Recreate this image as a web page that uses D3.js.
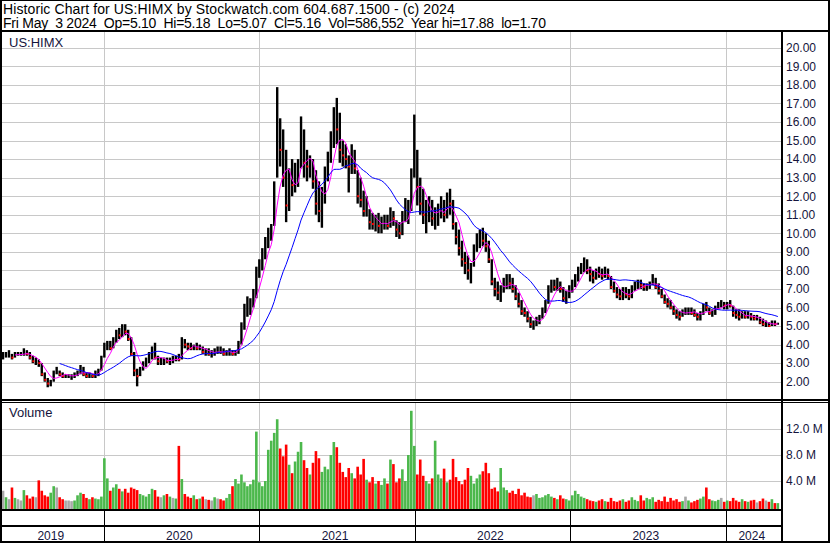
<!DOCTYPE html>
<html>
<head>
<meta charset="utf-8">
<title>US:HIMX historic chart</title>
<script src="https://d3js.org/d3.v7.min.js"></script>
<style>
  body { margin: 0; background: #fff; }
  svg { display: block; font-family: "Liberation Sans", Arial, sans-serif; }
  .grid line { stroke: #c8c8c8; stroke-width: 1px; shape-rendering: crispEdges; }
  .axis text { font-size: 12px; fill: #14143c; }
  .axis .domain, .axis .tick line { display: none; }
  .head { font-size: 14px; fill: #000; white-space: pre; }
  .panel-label { font-size: 13px; fill: #14143c; }
  .year { font-size: 12px; fill: #14143c; text-anchor: middle; }
</style>
</head>
<body>
<svg width="830" height="543"></svg>
<script>
// weekly bars, first week ends Fri May 10 2019, last week ends Fri May 3 2024
const firstWeek = new Date(2019, 4, 10);

const high = [
  3.6,3.6,3.7,3.5,3.6,3.6,3.6,3.8,3.7,3.6,3.4,3.3,3.2,3.0,2.5,2.2,2.1,2.6,2.8,2.6,2.5,2.4,2.4,2.4,2.5,2.6,2.9,2.8,2.5,2.5,2.4,2.6,2.7,3.4,
  4.1,4.2,4.2,4.4,4.8,4.9,5.1,5.1,4.8,4.4,3.6,2.7,2.8,3.1,3.3,3.6,3.9,4.1,3.4,3.3,3.3,3.3,3.3,3.4,3.4,3.5,4.4,4.3,4.1,4.1,4.0,4.1,4.0,3.9,3.8,3.8,3.7,3.8,3.9,3.9,3.8,3.7,3.8,3.7,3.7,4.2,5.2,6.2,6.6,6.5,7.0,8.2,
  8.6,9.2,9.8,10.3,10.5,12.8,17.88,16.2,15.6,14.5,13.5,14.0,13.8,14.0,16.3,15.6,14.5,14.2,14.0,13.4,12.8,12.5,13.6,14.4,15.5,16.8,17.3,16.5,15.0,14.8,14.2,14.8,14.5,13.4,13.0,12.3,12.0,11.3,11.1,11.0,11.1,10.9,11.0,11.0,11.4,11.2,10.7,10.6,11.2,11.9,11.8,13.5,16.4,
  14.5,13.0,12.4,11.8,12.0,11.8,11.4,11.6,12.0,11.8,12.2,12.4,11.8,10.6,10.2,9.6,9.0,8.8,8.4,9.4,10.0,10.2,10.3,10.0,9.6,8.6,7.6,7.4,7.2,7.6,7.8,7.8,7.6,7.2,6.8,6.4,6.0,5.8,5.5,5.3,5.5,5.6,6.0,6.4,7.2,7.5,7.5,7.6,7.4,7.1,6.9,7.2,
  7.5,7.8,8.2,8.4,8.7,8.6,8.2,8.0,8.1,8.2,8.1,8.2,8.1,7.7,7.4,7.1,7.0,7.1,7.1,7.0,7.2,7.4,7.5,7.5,7.3,7.3,7.4,7.8,7.6,7.3,7.0,6.7,6.5,6.4,6.1,5.9,5.8,5.9,6.0,6.0,6.0,5.9,5.7,5.8,6.2,6.3,6.0,5.9,6.1,6.3,6.4,6.3,
  6.3,6.4,6.1,5.9,5.9,5.8,5.8,5.8,5.7,5.6,5.6,5.5,5.4,5.3,5.2,5.3,5.3,5.18
];
const low = [
  3.2,3.3,3.3,3.2,3.3,3.4,3.4,3.4,3.4,3.2,3.0,2.9,2.8,2.3,2.0,1.7,1.75,2.0,2.4,2.3,2.2,2.2,2.2,2.1,2.2,2.3,2.4,2.3,2.2,2.2,2.2,2.2,2.3,2.6,
  3.3,3.7,3.7,3.8,4.1,4.3,4.4,4.5,4.2,3.4,2.3,1.75,2.3,2.6,2.8,3.0,3.2,3.2,2.9,2.9,2.9,3.0,2.9,3.0,3.1,3.1,3.2,3.8,3.7,3.7,3.7,3.7,3.7,3.5,3.4,3.4,3.3,3.4,3.5,3.5,3.4,3.4,3.4,3.4,3.4,3.5,4.0,4.8,5.5,5.6,6.0,6.5,
  7.6,8.0,8.6,9.2,9.6,10.4,13.0,13.6,12.5,10.6,11.2,12.0,12.2,12.5,13.5,13.0,12.8,13.0,12.4,11.0,10.6,10.3,11.6,12.8,13.8,14.6,14.8,13.8,13.6,13.5,12.2,13.2,13.2,11.6,11.4,10.9,10.9,10.2,10.2,10.1,10.0,10.0,10.2,10.2,10.3,10.4,9.8,9.7,9.9,10.6,10.5,11.2,13.0,
  11.5,11.0,10.5,10.0,10.6,10.4,10.2,10.4,10.8,10.6,10.8,11.0,10.2,9.4,8.8,8.2,7.8,7.5,7.3,8.2,9.0,9.2,9.3,9.0,8.4,7.2,6.6,6.4,6.3,6.8,7.0,7.0,6.8,6.4,6.0,5.6,5.5,5.2,4.9,4.8,5.0,5.1,5.4,5.7,6.2,6.8,6.9,6.9,6.8,6.3,6.2,6.5,
  6.8,7.1,7.4,7.8,7.9,7.8,7.4,7.3,7.5,7.6,7.5,7.6,7.5,7.0,6.8,6.5,6.4,6.4,6.5,6.4,6.5,6.9,7.0,7.0,6.9,6.9,7.0,7.2,7.0,6.7,6.5,6.2,6.0,5.9,5.6,5.4,5.3,5.5,5.6,5.6,5.6,5.5,5.3,5.3,5.6,5.8,5.6,5.5,5.6,5.9,6.0,5.9,
  5.9,6.0,5.5,5.4,5.3,5.4,5.4,5.4,5.3,5.3,5.3,5.1,5.0,4.95,4.95,5.0,5.0,5.07
];
const close = [
  3.4,3.5,3.5,3.3,3.5,3.5,3.5,3.6,3.5,3.3,3.1,3.1,3.0,2.4,2.1,1.9,2.0,2.5,2.5,2.4,2.3,2.3,2.3,2.3,2.4,2.5,2.8,2.4,2.3,2.4,2.3,2.5,2.6,3.3,
  3.9,4.0,3.8,4.3,4.6,4.5,4.9,4.7,4.3,3.5,2.6,2.3,2.7,2.9,3.1,3.4,3.6,3.3,3.1,3.1,3.2,3.1,3.2,3.2,3.3,3.2,4.1,4.0,3.9,3.8,3.9,3.8,3.9,3.6,3.6,3.5,3.5,3.7,3.7,3.6,3.5,3.6,3.7,3.5,3.6,4.1,4.9,5.9,6.0,6.3,6.6,8.0,
  8.3,9.0,9.4,10.0,10.2,12.5,15.5,14.5,13.0,11.5,12.8,12.6,13.2,13.5,15.5,13.8,13.6,13.8,12.8,11.6,11.2,11.8,13.2,14.0,15.0,16.0,15.6,14.5,14.2,14.0,13.6,14.2,13.5,12.0,11.8,11.2,11.4,10.6,10.5,10.6,10.4,10.5,10.7,10.4,11.0,10.8,10.2,10.0,11.0,11.2,11.4,13.2,14.0,
  12.5,11.6,11.0,11.2,11.5,10.8,11.0,11.2,11.6,11.0,11.8,11.6,10.5,9.8,9.2,8.6,8.4,8.0,8.2,9.2,9.6,9.8,9.6,9.3,8.6,7.4,7.0,6.8,7.0,7.4,7.5,7.3,7.0,6.6,6.2,5.8,5.7,5.4,5.1,5.1,5.3,5.4,5.9,6.2,7.0,7.2,7.1,7.3,7.0,6.5,6.6,7.0,
  7.3,7.6,8.0,8.1,8.5,8.0,7.8,7.6,7.9,7.8,7.7,7.9,7.7,7.1,6.9,6.7,6.6,6.9,6.7,6.6,7.0,7.2,7.3,7.2,7.1,7.2,7.3,7.6,7.1,6.9,6.6,6.3,6.2,6.0,5.8,5.6,5.5,5.8,5.8,5.9,5.7,5.6,5.5,5.6,6.1,6.0,5.7,5.8,6.0,6.2,6.2,6.1,
  6.2,6.1,5.7,5.6,5.5,5.6,5.5,5.6,5.5,5.4,5.4,5.2,5.1,5.1,5.0,5.2,5.1,5.16
];
// volume, millions of shares
const volume = [
  2.5,1.5,1.2,3.0,1.4,1.2,1.0,2.6,1.8,1.3,1.6,1.5,4.1,2.5,1.8,1.6,2.2,3.2,3.0,1.5,1.2,1.0,1.0,0.9,1.0,1.8,2.2,2.0,1.4,1.2,1.5,1.3,1.2,1.6,
  7.5,4.4,2.5,3.0,3.5,2.8,2.4,2.8,2.2,3.0,2.8,2.6,2.0,1.8,1.6,2.0,2.8,2.6,1.6,1.5,1.8,2.0,1.6,1.4,1.3,9.4,4.3,2.0,1.6,1.4,1.8,1.2,1.3,1.6,1.2,1.1,1.0,1.5,1.3,1.2,1.0,1.4,2.0,3.2,4.3,3.6,5.0,3.8,3.2,3.5,4.2,11.6,
  3.8,3.2,4.0,8.8,10.2,11.4,13.5,9.0,7.8,9.6,6.5,5.2,7.0,8.5,10.0,7.2,6.0,5.0,6.8,8.6,7.5,5.4,6.2,5.8,8.0,10.0,9.2,6.8,5.4,4.6,6.0,5.2,4.4,6.2,5.0,7.4,4.2,3.8,4.6,3.6,4.0,3.4,4.4,3.6,7.3,6.6,3.8,4.4,5.8,4.0,8.0,14.8,9.4,
  5.0,7.3,4.8,4.0,3.6,4.4,10.2,5.0,4.4,5.9,3.8,4.2,7.4,4.6,4.0,3.5,4.2,6.0,4.8,3.6,4.4,5.0,5.5,6.8,5.2,2.8,3.0,2.4,6.0,3.0,2.6,2.2,2.5,2.0,2.8,1.8,2.2,1.6,1.5,1.8,2.0,1.4,1.5,1.8,2.0,1.6,1.4,1.2,1.8,1.3,1.2,1.0,
  1.8,2.5,2.0,1.6,1.4,1.2,1.0,0.9,0.8,1.0,1.2,0.9,0.8,1.4,0.9,0.8,1.0,1.2,0.8,1.0,1.5,1.1,0.9,1.8,1.0,1.4,1.2,1.5,0.8,1.1,0.9,1.6,0.8,1.4,1.0,1.2,0.8,0.9,1.6,1.0,0.7,0.9,1.1,1.3,1.6,3.0,1.2,1.0,0.9,1.1,1.4,0.8,
  1.0,0.9,1.4,1.0,0.8,1.2,0.9,0.8,1.0,1.1,0.7,0.9,1.3,1.0,0.8,1.2,0.6,0.6
];

const priceTicks = d3.range(2, 21);
const volumeTicks = [4, 8, 12];
const years = [2019, 2020, 2021, 2022, 2023, 2024];
const headerLines = [
  "Historic Chart for US:HIMX by Stockwatch.com 604.687.1500 - (c) 2024",
  "Fri May  3 2024  Op=5.10  Hi=5.18  Lo=5.07  Cl=5.16  Vol=586,552  Year hi=17.88  lo=1.70"
];
const headerSpacing = [0.1, -0.25];
const symbol = "US:HIMX";

const svg = d3.select("svg");
const W = +svg.attr("width"), H = +svg.attr("height");
const plotLeft = 2, plotRight = 782;
const priceTop = 32, priceBottom = 399;
const volTop = 403, volBottom = 509;

const bars = close.map((c, i) => ({
  date: d3.timeDay.offset(firstWeek, 7 * i),
  hi: high[i], lo: low[i], close: c, vol: volume[i],
  prev: i > 0 ? close[i - 1] : c
}));

const x = d3.scaleTime()
  .domain([new Date(2020, 0, 1), new Date(2024, 0, 1)])
  .range([103.5, 725.5]);
const y = d3.scaleLinear().domain([2, 20]).range([381.7, 47.8]);
const yVol = d3.scaleLinear().domain([0, 12]).range([507, 429]);

function sma(n) {
  return bars.map((d, i) => i < n - 1 ? null
    : {date: d.date, v: d3.mean(close.slice(i - n + 1, i + 1))}).filter(d => d);
}

svg.append("rect").attr("width", W).attr("height", H).attr("fill", "#fff");

// clip regions
const defs = svg.append("defs");
defs.append("clipPath").attr("id", "clipPrice").append("rect")
  .attr("x", plotLeft).attr("y", priceTop).attr("width", plotRight - plotLeft).attr("height", priceBottom - priceTop);
defs.append("clipPath").attr("id", "clipVol").append("rect")
  .attr("x", plotLeft).attr("y", volTop).attr("width", plotRight - plotLeft).attr("height", volBottom - volTop);

// grids
const yearStarts = d3.timeYear.range(new Date(2020, 0, 1), new Date(2025, 0, 1));
const gPriceGrid = svg.append("g").attr("class", "grid");
gPriceGrid.selectAll("line.h").data(priceTicks).join("line").attr("class", "h")
  .attr("x1", plotLeft).attr("x2", plotRight)
  .attr("y1", d => Math.round(y(d)) + 0.5).attr("y2", d => Math.round(y(d)) + 0.5);
gPriceGrid.selectAll("line.v").data(yearStarts).join("line").attr("class", "v")
  .attr("x1", d => Math.round(x(d)) + 0.5).attr("x2", d => Math.round(x(d)) + 0.5)
  .attr("y1", priceTop).attr("y2", priceBottom);

const gVolGrid = svg.append("g").attr("class", "grid");
gVolGrid.selectAll("line.h").data(volumeTicks).join("line").attr("class", "h")
  .attr("x1", plotLeft).attr("x2", plotRight)
  .attr("y1", d => Math.round(yVol(d)) + 0.5).attr("y2", d => Math.round(yVol(d)) + 0.5);
gVolGrid.selectAll("line.v").data(yearStarts).join("line").attr("class", "v")
  .attr("x1", d => Math.round(x(d)) + 0.5).attr("x2", d => Math.round(x(d)) + 0.5)
  .attr("y1", volTop).attr("y2", volBottom);

// volume bars
svg.append("g").attr("clip-path", "url(#clipVol)")
  .selectAll("rect").data(bars).join("rect")
    .attr("x", d => x(d.date) - 1.3)
    .attr("width", 2.6)
    .attr("y", d => yVol(d.vol))
    .attr("height", d => volBottom - yVol(d.vol))
    .attr("fill", d => d.close > d.prev ? "#4cb84c" : d.close < d.prev ? "#ff0000" : "#a8a8a8");

// price bars
const gPrice = svg.append("g").attr("clip-path", "url(#clipPrice)");
gPrice.selectAll("line.bar").data(bars).join("line").attr("class", "bar")
  .attr("x1", d => x(d.date)).attr("x2", d => x(d.date))
  .attr("y1", d => y(d.hi)).attr("y2", d => y(d.lo))
  .attr("stroke", "#000").attr("stroke-width", 2.4);
gPrice.selectAll("rect.cl").data(bars.filter(d => d.close < d.prev)).join("rect").attr("class", "cl")
  .attr("x", d => x(d.date) - 0.5).attr("y", d => y(d.close) - 1)
  .attr("width", 2).attr("height", 2).attr("fill", "#ff0000");

const line = d3.line().x(d => x(d.date)).y(d => y(d.v));
gPrice.append("path").datum(sma(5)).attr("d", line)
  .attr("fill", "none").attr("stroke", "#ff00ff").attr("stroke-width", 1);
gPrice.append("path").datum(sma(20)).attr("d", line)
  .attr("fill", "none").attr("stroke", "#0000ff").attr("stroke-width", 1);

// right axes
svg.append("g").attr("class", "axis")
  .attr("transform", `translate(${plotRight}, 0)`)
  .call(d3.axisRight(y).tickValues(priceTicks).tickSize(0).tickPadding(4).tickFormat(d3.format(".2f")));
svg.append("g").attr("class", "axis")
  .attr("transform", `translate(${plotRight}, 0)`)
  .call(d3.axisRight(yVol).tickValues(volumeTicks).tickSize(0).tickPadding(4).tickFormat(d => d.toFixed(1) + " M"));

// panel labels
svg.append("text").attr("class", "panel-label").attr("x", 9).attr("y", 46.5).text(symbol);
svg.append("text").attr("class", "panel-label").attr("x", 9).attr("y", 417).text("Volume");

// header
svg.selectAll("text.head").data(headerLines).join("text").attr("class", "head")
  .attr("x", 3).attr("y", (d, i) => 13.5 + i * 14.5)
  .attr("letter-spacing", (d, i) => headerSpacing[i])
  .text(d => d);

// year labels along the bottom
const bounds = [plotLeft].concat(yearStarts.map(d => x(d)).filter(v => v < plotRight), [plotRight]);
svg.selectAll("text.year").data(years).join("text").attr("class", "year")
  .attr("x", (d, i) => (bounds[i] + bounds[i + 1]) / 2 - 2)
  .attr("y", 539.5).text(d => d);

// frame lines
const frame = svg.append("g").attr("fill", "#000").attr("shape-rendering", "crispEdges");
frame.append("rect").attr("x", 0).attr("y", 0).attr("width", W).attr("height", 1);
frame.append("rect").attr("x", 0).attr("y", 30).attr("width", W).attr("height", 2);
frame.append("rect").attr("x", 0).attr("y", 0).attr("width", 2).attr("height", H);
frame.append("rect").attr("x", W - 2).attr("y", 0).attr("width", 2).attr("height", H);
frame.append("rect").attr("x", 0).attr("y", H - 2).attr("width", W).attr("height", 2);
frame.append("rect").attr("x", plotRight - 1).attr("y", 30).attr("width", 2).attr("height", H - 30);
frame.append("rect").attr("x", 0).attr("y", priceBottom).attr("width", W).attr("height", 2);
frame.append("rect").attr("x", 0).attr("y", priceBottom + 3).attr("width", W).attr("height", 1);
frame.append("rect").attr("x", 0).attr("y", volBottom).attr("width", plotRight).attr("height", 2);
frame.append("rect").attr("x", 0).attr("y", 525).attr("width", plotRight).attr("height", 2);
frame.selectAll("rect.tick").data(yearStarts.filter(d => x(d) < plotRight)).join("rect").attr("class", "tick")
  .attr("x", d => Math.round(x(d))).attr("y", volBottom).attr("width", 1).attr("height", H - volBottom);
</script>
</body>
</html>
